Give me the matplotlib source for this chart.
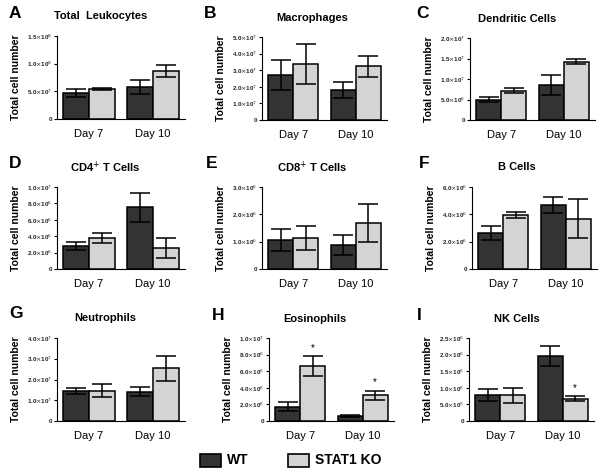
import matplotlib
matplotlib.use('Agg')
import matplotlib.pyplot as plt
import numpy as np
from matplotlib.patches import Rectangle

plt.rcParams['font.family'] = ['Liberation Sans', 'DejaVu Sans']

days = ['Day 7', 'Day 10']
groups = ['WT', 'STAT1 KO']

# values: (wt_day7, wt_day10), (ko_day7, ko_day10); errors same order
titles = ['Total  Leukocytes', 'Macrophages', 'Dendritic Cells',
          'CD4$^{+}$ T Cells', 'CD8$^{+}$ T Cells', 'B Cells',
          'Neutrophils', 'Eosinophils', 'NK Cells']
letters = ['A', 'B', 'C', 'D', 'E', 'F', 'G', 'H', 'I']

wt_mean = [[4.7e7, 5.8e7], [2.72e7, 1.81e7], [5.0e6, 8.6e6],
           [2.83e6, 7.53e6], [1.05e6, 0.87e6], [2.63e6, 4.69e6],
           [1.43e7, 1.41e7], [1.72e6, 0.64e6], [0.77e6, 1.95e6]]
wt_err = [[7e6, 1.3e7], [0.9e7, 0.48e7], [0.5e6, 2.4e6],
          [0.52e6, 1.75e6], [0.4e6, 0.36e6], [0.52e6, 0.59e6],
          [0.14e7, 0.22e7], [0.56e6, 0.12e6], [0.18e6, 0.3e6]]
ko_mean = [[5.4e7, 8.7e7], [3.37e7, 3.23e7], [7.1e6, 1.42e7],
           [3.78e6, 2.59e6], [1.15e6, 1.67e6], [3.95e6, 3.68e6],
           [1.46e7, 2.54e7], [6.6e6, 3.08e6], [0.77e6, 0.67e6]]
ko_err = [[2e6, 1.1e7], [1.2e7, 0.65e7], [0.6e6, 0.6e6],
          [0.6e6, 1.2e6], [0.44e6, 0.7e6], [0.24e6, 1.43e6],
          [0.3e7, 0.59e7], [1.18e6, 0.58e6], [0.23e6, 0.07e6]]
ko_star = [[False, False], [False, False], [False, False],
           [False, False], [False, False], [False, False],
           [False, False], [True, True], [False, True]]

# y ticks: (values, mantissa labels, exponent)
yticks = [
    ([0, 5e7, 1e8, 1.5e8], ['0', '5.0', '1.0', '1.5'], ['', '7', '8', '8']),
    ([0, 1e7, 2e7, 3e7, 4e7, 5e7], ['0', '1.0', '2.0', '3.0', '4.0', '5.0'], ['', '7', '7', '7', '7', '7']),
    ([0, 5e6, 1e7, 1.5e7, 2e7], ['0', '5.0', '1.0', '1.5', '2.0'], ['', '6', '7', '7', '7']),
    ([0, 2e6, 4e6, 6e6, 8e6, 1e7], ['0', '2.0', '4.0', '6.0', '8.0', '1.0'], ['', '6', '6', '6', '6', '7']),
    ([0, 1e6, 2e6, 3e6], ['0', '1.0', '2.0', '3.0'], ['', '6', '6', '6']),
    ([0, 2e6, 4e6, 6e6], ['0', '2.0', '4.0', '6.0'], ['', '6', '6', '6']),
    ([0, 1e7, 2e7, 3e7, 4e7], ['0', '1.0', '2.0', '3.0', '4.0'], ['', '7', '7', '7', '7']),
    ([0, 2e6, 4e6, 6e6, 8e6, 1e7], ['0', '2.0', '4.0', '6.0', '8.0', '1.0'], ['', '6', '6', '6', '6', '7']),
    ([0, 5e5, 1e6, 1.5e6, 2e6, 2.5e6], ['0', '5.0', '1.0', '1.5', '2.0', '2.5'], ['', '5', '6', '6', '6', '6']),
]

W, H = 600, 472
fig = plt.figure(figsize=(6, 4.72), dpi=100)
fig.patch.set_facecolor('white')

# axes boxes in pixels: left, top, right, bottom
boxes = [(57, 36, 185, 119), (262, 37, 387, 120), (470, 38, 595, 120),
         (57, 187, 185, 269), (262, 187, 387, 269), (472, 187, 597, 269),
         (57, 338, 185, 421), (269, 338, 394, 421), (469, 338, 594, 421)]
title_pos = [(101, 16), (312, 18), (517, 19), (105, 167), (312, 167), (517, 167),
             (105, 318), (315, 319), (517, 319)]
letter_pos = [(9, 13), (204, 13), (416, 13), (9, 163), (206, 163), (419, 163),
              (9, 313), (212, 315), (417, 315)]

wt_color = '#333333'
ko_color = '#d4d4d4'
bw = 0.4
ekw = dict(ecolor='black', elinewidth=1.1, capsize=7, capthick=1.1)

for i in range(9):
    l, t, r, b = boxes[i]
    ax = fig.add_axes([l / W, 1 - b / H, (r - l) / W, (b - t) / H])
    x = np.arange(2)
    ax.bar(x - bw / 2, wt_mean[i], bw, color=wt_color, edgecolor='black', linewidth=1.1,
           yerr=wt_err[i], error_kw=ekw)
    ax.bar(x + bw / 2, ko_mean[i], bw, color=ko_color, edgecolor='black', linewidth=1.1,
           yerr=ko_err[i], error_kw=ekw)
    tv, mant, ex = yticks[i]
    ymax = tv[-1]
    for j in range(2):
        if ko_star[i][j]:
            ax.text(x[j] + bw / 2, ko_mean[i][j] + ko_err[i][j] + 0.04 * ymax, '*',
                    ha='center', va='bottom', fontsize=7)
    ax.set_xlim(-0.5, 1.5)
    ax.set_ylim(0, ymax)
    labels = []
    for m, e in zip(mant, ex):
        if e == '':
            labels.append(m)
        else:
            labels.append(m + r'$\times$10$^{' + e + '}$')
    ax.set_yticks(tv)
    ax.set_yticklabels(labels, fontsize=4.5, fontweight='bold', color='#222222')
    ax.set_xticks(x)
    ax.set_xticklabels(days, fontsize=8)
    ax.tick_params(axis='x', length=0, pad=7)
    ax.tick_params(axis='y', length=2, width=0.8, pad=1.5)
    ax.spines['right'].set_visible(False)
    ax.spines['top'].set_visible(False)
    ax.spines['left'].set_linewidth(0.8)
    ax.spines['bottom'].set_linewidth(0.8)
    ax.set_ylabel('Total cell number', fontsize=7.5, fontweight='bold', labelpad=4)
    tx, ty = title_pos[i]
    fig.text(tx / W, 1 - ty / H, titles[i], ha='center', va='center', fontsize=8, fontweight='bold')
    lx, ly = letter_pos[i]
    fig.text(lx / W, 1 - ly / H, letters[i], ha='left', va='center', fontsize=12.5, fontweight='bold')

# legend
leg_boxes = [(200, 454, 221, 467), (288, 454, 309, 467)]
for k, (g, c) in enumerate(zip(groups, [wt_color, ko_color])):
    x0, y0, x1, y1 = leg_boxes[k]
    fig.patches.append(Rectangle((x0 / W, 1 - y1 / H), (x1 - x0) / W, (y1 - y0) / H,
                                 transform=fig.transFigure, facecolor=c, edgecolor='black',
                                 linewidth=1.2))
    fig.text((x1 + 6) / W, 1 - (y0 + y1) / 2 / H, g, ha='left', va='center',
             fontsize=10, fontweight='bold')

fig.savefig('out.png', dpi=100)
